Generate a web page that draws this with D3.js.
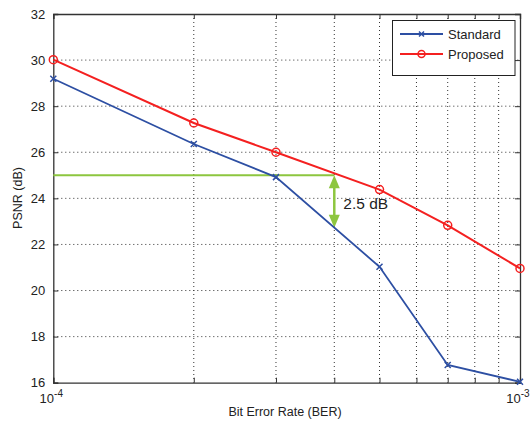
<!DOCTYPE html>
<html><head><meta charset="utf-8">
<script src="https://cdn.jsdelivr.net/npm/d3@7"></script>
<style>body{margin:0;background:#fff;}svg{display:block;font-family:"Liberation Sans",Arial,sans-serif;}</style>
</head><body>
<svg id="c" width="530" height="428"></svg>
<script>
const berStd = [1e-4, 2e-4, 3e-4, 5e-4, 7e-4, 1e-3];
const psnrStd = [29.19, 26.36, 24.92, 21.03, 16.77, 16.04];
const berProp = [1e-4, 2e-4, 3e-4, 5e-4, 7e-4, 1e-3];
const psnrProp = [30.02, 27.27, 26.0, 24.38, 22.83, 20.96];
const yTicks = [16, 18, 20, 22, 24, 26, 28, 30, 32];
const xGrid = [2e-4, 3e-4, 4e-4, 5e-4, 6e-4, 7e-4, 8e-4, 9e-4];
const xMajor = [{v: 1e-4, exp: "-4"}, {v: 1e-3, exp: "-3"}];
const seriesNames = ["Standard", "Proposed"];
const annotLevel = 25, annotBer = 4e-4, annotLow = 22.72, annotText = "2.5 dB";

const svg = d3.select("#c");
const L = 53.3, R = 520, T = 14, B = 382.7;
const x = d3.scaleLog().domain([1e-4, 1e-3]).range([L, R]);
const y = d3.scaleLinear().domain([16, 32]).range([B, T]);

// grid
const g = svg.append("g");
g.selectAll(".gx").data(xGrid).enter().append("line")
  .attr("x1", d => x(d)).attr("x2", d => x(d)).attr("y1", T).attr("y2", B)
  .attr("stroke", "#333").attr("stroke-width", 1).attr("stroke-dasharray", "1,3");
g.selectAll(".gy").data(yTicks.slice(1, -1)).enter().append("line")
  .attr("x1", L).attr("x2", R).attr("y1", d => y(d)).attr("y2", d => y(d))
  .attr("stroke", "#333").attr("stroke-width", 1).attr("stroke-dasharray", "1,3");

// axes (MATLAB inward ticks)
const ax = svg.append("g");
const yl = d3.axisLeft(y).tickValues(yTicks).tickSize(-5).tickPadding(8).tickFormat(d3.format("d"));
const yr = d3.axisRight(y).tickValues(yTicks).tickSize(-5).tickFormat("");
const xb = d3.axisBottom(x).tickValues(xGrid.concat([1e-4, 1e-3])).tickSize(-5).tickFormat("");
const xt = d3.axisTop(x).tickValues(xGrid.concat([1e-4, 1e-3])).tickSize(-5).tickFormat("");
ax.append("g").attr("transform", `translate(${L},0)`).call(yl);
ax.append("g").attr("transform", `translate(${R},0)`).call(yr);
ax.append("g").attr("transform", `translate(0,${B})`).call(xb);
ax.append("g").attr("transform", `translate(0,${T})`).call(xt);
ax.selectAll(".domain").attr("stroke", "#333").attr("stroke-width", 1.3);
ax.selectAll(".tick line").attr("stroke", "#333");
ax.selectAll(".tick text").attr("font-size", 13).attr("fill", "#222")
  .attr("font-family", "'Liberation Sans',Arial,sans-serif");

// x major labels 10^-4, 10^-3
xMajor.forEach(m => {
  const t = svg.append("text").attr("x", x(m.v) - 2).attr("y", B + 20)
    .attr("text-anchor", "middle").attr("font-size", 13).attr("fill", "#222");
  t.append("tspan").text("10");
  t.append("tspan").attr("dy", -6).attr("font-size", 10).text(m.exp);
});

// axis titles
svg.append("text").attr("x", 285).attr("y", 416).attr("text-anchor", "middle")
  .attr("font-size", 12.5).attr("fill", "#222").text("Bit Error Rate (BER)");
svg.append("text").attr("transform", "translate(22,198) rotate(-90)").attr("text-anchor", "middle")
  .attr("font-size", 12.5).attr("fill", "#222").text("PSNR (dB)");

// annotation
const green = "#8dc63f";
svg.append("line").attr("x1", x(1e-4)).attr("x2", x(annotBer)).attr("y1", y(annotLevel)).attr("y2", y(annotLevel))
  .attr("stroke", green).attr("stroke-width", 2);
const axx = x(annotBer), yTop = y(annotLevel), yBot = y(annotLow);
svg.append("line").attr("x1", axx).attr("x2", axx).attr("y1", yTop + 10).attr("y2", yBot - 10)
  .attr("stroke", green).attr("stroke-width", 2.5);
svg.append("path").attr("d", `M${axx},${yTop} L${axx - 5.5},${yTop + 13} L${axx + 5.5},${yTop + 13} Z`).attr("fill", green);
svg.append("path").attr("d", `M${axx},${yBot} L${axx - 5.5},${yBot - 13} L${axx + 5.5},${yBot - 13} Z`).attr("fill", green);
svg.append("text").attr("x", axx + 9).attr("y", 209).attr("font-size", 15.5).attr("fill", "#222").text(annotText);

// series
const line = d3.line().x(d => x(d[0])).y(d => y(d[1]));
const stdData = berStd.map((b, i) => [b, psnrStd[i]]);
const propData = berProp.map((b, i) => [b, psnrProp[i]]);
const blue = "#2d4fa3", red = "#f42020";
svg.append("path").datum(stdData).attr("d", line).attr("fill", "none").attr("stroke", blue).attr("stroke-width", 1.8);
svg.append("path").datum(propData).attr("d", line).attr("fill", "none").attr("stroke", red).attr("stroke-width", 2);
function xMark(sel, cx, cy, s, col) {
  sel.append("path").attr("d", `M${cx - s},${cy - s}L${cx + s},${cy + s}M${cx - s},${cy + s}L${cx + s},${cy - s}`)
    .attr("stroke", col).attr("stroke-width", 1.5).attr("fill", "none");
}
stdData.forEach(d => xMark(svg, x(d[0]), y(d[1]), 3, blue));
svg.selectAll(".pm").data(propData).enter().append("circle")
  .attr("cx", d => x(d[0])).attr("cy", d => y(d[1])).attr("r", 4)
  .attr("fill", "none").attr("stroke", red).attr("stroke-width", 1.5);

// legend
const lg = svg.append("g");
lg.append("rect").attr("x", 392.5).attr("y", 20.5).attr("width", 122.5).attr("height", 55)
  .attr("fill", "#fff").attr("stroke", "#222").attr("stroke-width", 1);
const rows = [{name: seriesNames[0], col: blue, y: 34}, {name: seriesNames[1], col: red, y: 54}];
rows.forEach((r, i) => {
  lg.append("line").attr("x1", 400).attr("x2", 443).attr("y1", r.y).attr("y2", r.y).attr("stroke", r.col).attr("stroke-width", 2);
  if (i === 0) xMark(lg, 421.5, r.y, 2.5, r.col);
  else lg.append("circle").attr("cx", 421.5).attr("cy", r.y).attr("r", 3.5).attr("fill", "none").attr("stroke", r.col).attr("stroke-width", 1.5);
  lg.append("text").attr("x", 448).attr("y", r.y + 4.5).attr("font-size", 13).attr("fill", "#222").text(r.name);
});
</script>
</body></html>
